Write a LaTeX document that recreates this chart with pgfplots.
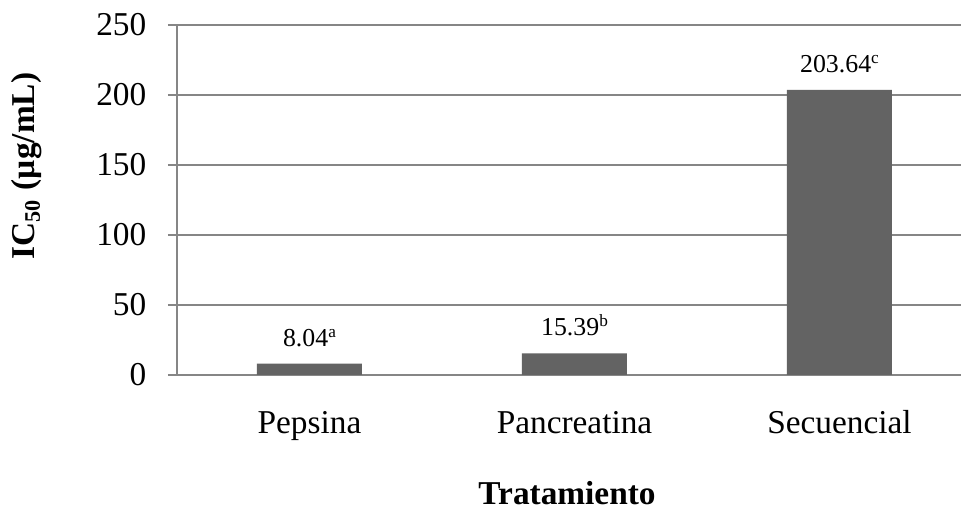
\documentclass[border=0pt]{standalone}
\usepackage{pgfplots}
\pgfplotsset{compat=1.18}
\usepackage{fontspec}
\setmainfont{Liberation Serif}
\definecolor{bargray}{RGB}{99,99,99}
\definecolor{linegray}{RGB}{134,134,134}
% small raised letter for the significance marks
\newcommand{\sig}[1]{\raisebox{3.3pt}{\fontsize{6.2}{7}\selectfont #1}}
\begin{document}
\begin{tikzpicture}
\begin{axis}[
    name=ax, at={(0,0)}, anchor=south west,
    scale only axis,
    width=286.2pt, height=126pt,
    xmin=-0.5, xmax=2.5,
    ymin=0, ymax=250,
    ytick={0,50,...,250},
    xtick={0,1,2},
    xticklabels={Pepsina, Pancreatina, Secuencial},
    axis x line*=bottom, axis y line*=left,
    axis line style={linegray, line width=0.8pt, -},
    ymajorgrids, grid style={linegray, line width=0.8pt},
    major tick length=3.24pt,
    tick align=outside,
    x tick style={draw=none},
    y tick style={linegray, line width=0.8pt},
    /pgf/number format/assume math mode=true,
    yticklabel style={font=\fontsize{12}{14}\selectfont, anchor=east, inner sep=0pt, xshift=-7.6pt},
    xticklabel style={font=\fontsize{12}{14}\selectfont, anchor=base, inner sep=0pt, yshift=-18pt},
    ylabel={\textbf{IC\textsubscript{50} (µg/mL)}},
    every axis y label/.style={at={(axis description cs:-0.1887,0.597)}, rotate=90, anchor=center, font=\fontsize{12}{14}\selectfont},
    xlabel={\textbf{Tratamiento}},
    every axis x label/.style={at={(axis description cs:0.4906,-0.337)}, anchor=center, font=\fontsize{12}{14}\selectfont},
    ybar, bar width=37.8pt,
    point meta=explicit symbolic,
    nodes near coords,
    every node near coord/.append style={font=\fontsize{9.3}{11}\selectfont, anchor=base, inner sep=0pt, yshift=6.3pt},
]
\addplot[fill=bargray, draw=none] coordinates {
    (0,8.04) [8.04\sig{a}]
    (1,15.39) [15.39\sig{b}]
    (2,203.64) [203.64\sig{c}]
};
\end{axis}
\pgfresetboundingbox
\useasboundingbox (-63.72pt,-49.68pt) rectangle (282.24pt,135pt);
\end{tikzpicture}
\end{document}
